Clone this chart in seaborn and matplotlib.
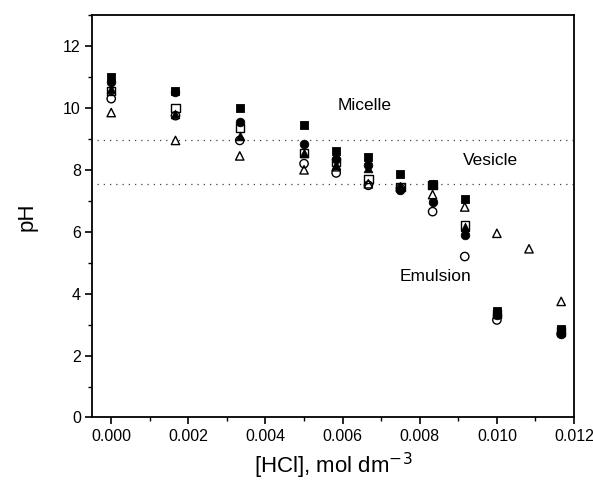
import numpy as np
import pandas as pd
import matplotlib
matplotlib.use("Agg")
import matplotlib.pyplot as plt
import seaborn as sns
from matplotlib.ticker import MultipleLocator, FormatStrFormatter

hcl = [0.0, 0.001667, 0.003333, 0.005, 0.005833, 0.006667, 0.0075,
       0.008333, 0.009167, 0.01, 0.010833, 0.011667]
nan = np.nan
ph_filled_square = [11.0, 10.55, 10.0, 9.45, 8.6, 8.4, 7.85, 7.55, 7.05, 3.45, nan, 2.85]
ph_filled_circle = [10.85, 10.5, 9.55, 8.85, 8.35, 8.15, 7.35, 6.95, 5.9, 3.3, nan, 2.7]
ph_filled_triangle = [10.6, 9.8, 9.1, 8.55, 8.15, 8.05, 7.45, 7.55, 6.15, 3.4, nan, 2.75]
ph_open_square = [10.55, 10.0, 9.35, 8.55, 8.25, 7.7, 7.45, 7.5, 6.2, 3.35, nan, 2.8]
ph_open_circle = [10.3, 9.75, 8.95, 8.2, 7.9, 7.5, 7.4, 6.65, 5.2, 3.15, nan, 2.7]
ph_open_triangle = [9.85, 8.95, 8.45, 8.0, 8.1, 7.55, 7.45, 7.2, 6.8, 5.95, 5.45, 3.75]

boundary_micelle = 8.95
boundary_vesicle = 7.55
region_labels = ["Micelle", "Vesicle", "Emulsion"]
region_x = [0.00657, 0.00984, 0.00842]
region_y = [10.08, 8.3, 4.56]

sns.set_style("ticks")
plt.rcParams['font.family'] = ['Liberation Sans', 'DejaVu Sans']
plt.rcParams['text.color'] = 'black'
plt.rcParams['axes.labelcolor'] = 'black'
plt.rcParams['xtick.color'] = 'black'
plt.rcParams['ytick.color'] = 'black'

fig = plt.figure(figsize=(5.93, 4.86), dpi=100)
ax = fig.add_axes([0.155, 0.141, 0.813, 0.828])

series = [
    (ph_filled_square, "s", True),
    (ph_filled_circle, "o", True),
    (ph_filled_triangle, "^", True),
    (ph_open_square, "s", False),
    (ph_open_circle, "o", False),
    (ph_open_triangle, "^", False),
]
for vals, mk, filled in series:
    df = pd.DataFrame({"x": hcl, "y": vals}).dropna()
    if filled:
        sns.scatterplot(data=df, x="x", y="y", marker=mk, s=38, color="black",
                        edgecolor="black", linewidth=0.6, ax=ax, zorder=3)
    else:
        sns.scatterplot(data=df, x="x", y="y", marker=mk, s=36,
                        facecolor="none", edgecolor="black", linewidth=1.0,
                        ax=ax, zorder=3)

ax.plot([-0.00036, 0.012], [boundary_micelle] * 2, color="#444444", lw=0.9,
        linestyle=(0, (1, 4)))
ax.plot([-0.00036, 0.012], [boundary_vesicle] * 2, color="#444444", lw=0.9,
        linestyle=(0, (1, 4)))

for t, xx, yy in zip(region_labels, region_x, region_y):
    ax.text(xx, yy, t, ha="center", va="center", fontsize=12.5, color="black")

ax.set_xlim(-0.0005, 0.012)
ax.set_ylim(0, 13)
ax.xaxis.set_major_locator(MultipleLocator(0.002))
ax.xaxis.set_minor_locator(MultipleLocator(0.001))
ax.xaxis.set_major_formatter(FormatStrFormatter("%.3f"))
ax.yaxis.set_minor_locator(MultipleLocator(1))
ax.set_yticks([0, 2, 4, 6, 8, 10, 12])
ax.tick_params(which="major", direction="out", length=5, width=1.2, labelsize=11.5,
               colors="black", pad=3)
ax.tick_params(which="minor", direction="out", length=3, width=1.0, colors="black")
ax.tick_params(top=False, right=False, which="both")
for sp in ax.spines.values():
    sp.set_linewidth(1.3)
    sp.set_color("black")
    sp.set_visible(True)

ax.set_xlabel("[HCl], mol dm$^{-3}$", fontsize=16, labelpad=5, color="black")
ax.set_ylabel("pH", fontsize=16, labelpad=18, color="black")

fig.savefig("out.png", dpi=100)
